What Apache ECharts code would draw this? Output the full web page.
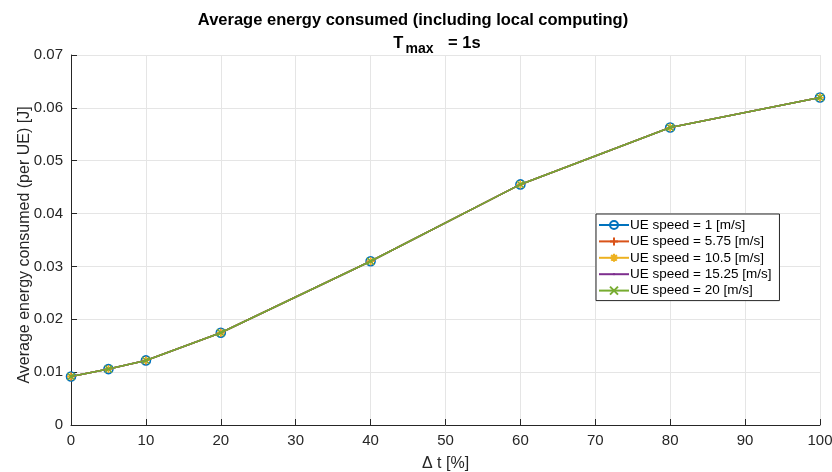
<!DOCTYPE html>
<html>
<head>
<meta charset="utf-8">
<script src="https://cdn.jsdelivr.net/npm/echarts@6/dist/echarts.min.js"></script>
<style>
  html, body { margin: 0; padding: 0; background: #fff; }
  #chart { width: 832px; height: 472px; }
</style>
</head>
<body>
<div id="chart"></div>
<script>
// Relative deadline offset Δt (%)
const deltaT = [0, 5, 10, 20, 40, 60, 80, 100];

// Average energy per UE [J] for each UE speed
const speed1 = [0.00918, 0.01058, 0.01222, 0.01745, 0.03098, 0.04552, 0.05627, 0.06195];
const speed575 = [0.00918, 0.01058, 0.01222, 0.01745, 0.03098, 0.04552, 0.05627, 0.06195];
const speed105 = [0.00918, 0.01058, 0.01222, 0.01745, 0.03098, 0.04552, 0.05627, 0.06195];
const speed1525 = [0.00918, 0.01058, 0.01222, 0.01745, 0.03098, 0.04552, 0.05627, 0.06195];
const speed20 = [0.00918, 0.01058, 0.01222, 0.01745, 0.03098, 0.04552, 0.05627, 0.06195];

const seriesNames = [
  'UE speed = 1 [m/s]',
  'UE speed = 5.75 [m/s]',
  'UE speed = 10.5 [m/s]',
  'UE speed = 15.25 [m/s]',
  'UE speed = 20 [m/s]'
];

const yTicks = [0, 0.01, 0.02, 0.03, 0.04, 0.05, 0.06, 0.07];

const colors = ['#0072BD', '#D95319', '#EDB120', '#7E2F8E', '#77AC30'];
const plusPath = 'path://M5,0L5,10M0,5L10,5';
const crossPath = 'path://M0,0L10,10M0,10L10,0';
const starPath = 'path://M5,0L5,10M0,5L10,5M1.5,1.5L8.5,8.5M1.5,8.5L8.5,1.5';
// small dot centred in a 10x10 box so that it stays tiny when scaled
const dotPath = 'path://M0,0M10,10M3.6,5a1.4,1.4 0 1,0 2.8,0a1.4,1.4 0 1,0 -2.8,0Z';

const markers = [
  { symbol: 'circle', size: 9, fill: 'rgba(0,0,0,0)', bw: 1.6 },
  { symbol: plusPath, size: 8, fill: 'rgba(0,0,0,0)', bw: 1.3 },
  { symbol: starPath, size: 8, fill: 'rgba(0,0,0,0)', bw: 1.3 },
  { symbol: dotPath, size: 8, fill: colors[3], bw: 0 },
  { symbol: crossPath, size: 7, fill: 'rgba(0,0,0,0)', bw: 1.3 }
];

const datasets = [speed1, speed575, speed105, speed1525, speed20];

const series = datasets.map((vals, i) => ({
  name: seriesNames[i],
  type: 'line',
  data: deltaT.map((x, j) => [x, vals[j]]),
  symbol: markers[i].symbol,
  symbolSize: markers[i].size,
  showAllSymbol: true,
  lineStyle: { color: colors[i], width: 1.6 },
  itemStyle: {
    color: markers[i].fill,
    borderColor: colors[i],
    borderWidth: markers[i].bw
  },
  emphasis: { disabled: true },
  animation: false,
  z: 2 + i
}));

const chart = echarts.init(document.getElementById('chart'), null, { renderer: 'canvas' });
const fontFam = 'Liberation Sans, Arial, Helvetica, sans-serif';

chart.setOption({
  backgroundColor: '#ffffff',
  animation: false,
  title: [
    {
      text: 'Average energy consumed (including local computing)',
      left: 408,
      top: 7,
      textAlign: 'center',
      textStyle: { fontFamily: fontFam, fontSize: 16.5, fontWeight: 'bold', color: '#000' }
    },
    {
      text: '{t|T}{s|max}{t| = 1s}',
      left: 432,
      top: 28,
      textAlign: 'center',
      textStyle: {
        rich: {
          t: { fontFamily: fontFam, fontSize: 16.5, fontWeight: 'bold', color: '#000', lineHeight: 20 },
          s: { fontFamily: fontFam, fontSize: 14, fontWeight: 'bold', color: '#000', padding: [12, 10, 0, 2], lineHeight: 20 }
        }
      }
    }
  ],
  grid: { left: 71, right: 12, top: 55, bottom: 47, containLabel: false, outerBoundsMode: 'none' },
  legend: {
    orient: 'vertical',
    left: 596,
    top: 214,
    itemWidth: 30,
    itemHeight: 10,
    itemGap: 2.4,
    padding: [4, 8, 3, 2],
    borderColor: '#262626',
    borderWidth: 1,
    backgroundColor: '#fff',
    textStyle: { fontFamily: fontFam, fontSize: 13.5, color: '#000', padding: [0, 0, 0, -4] },
    data: seriesNames
  },
  xAxis: {
    type: 'value',
    min: 0,
    max: 100,
    interval: 10,
    name: 'Δ t [%]',
    nameLocation: 'middle',
    nameGap: 31,
    nameMoveOverlap: false,
    nameTextStyle: { fontFamily: fontFam, fontSize: 16, color: '#262626' },
    axisLine: { show: true, lineStyle: { color: '#262626', width: 1 } },
    axisTick: { show: true, inside: true, length: 6, lineStyle: { color: '#262626' } },
    axisLabel: { fontFamily: fontFam, fontSize: 15, color: '#262626', margin: 8 },
    splitLine: { show: true, lineStyle: { color: '#e5e5e5', width: 1 } }
  },
  yAxis: {
    type: 'value',
    min: yTicks[0],
    max: yTicks[yTicks.length - 1],
    interval: 0.01,
    name: 'Average energy consumed (per UE) [J]',
    nameLocation: 'middle',
    nameGap: 38,
    nameMoveOverlap: false,
    nameTextStyle: { fontFamily: fontFam, fontSize: 16, color: '#262626', padding: [0, 10, 0, 0] },
    axisLine: { show: true, lineStyle: { color: '#262626', width: 1 } },
    axisTick: { show: true, inside: true, length: 6, lineStyle: { color: '#262626' } },
    axisLabel: {
      fontFamily: fontFam, fontSize: 15, color: '#262626', margin: 8,
      formatter: v => (v === 0 ? '0' : v.toFixed(2))
    },
    splitLine: { show: true, lineStyle: { color: '#e5e5e5', width: 1 } }
  },
  series: series
});
</script>
</body>
</html>
